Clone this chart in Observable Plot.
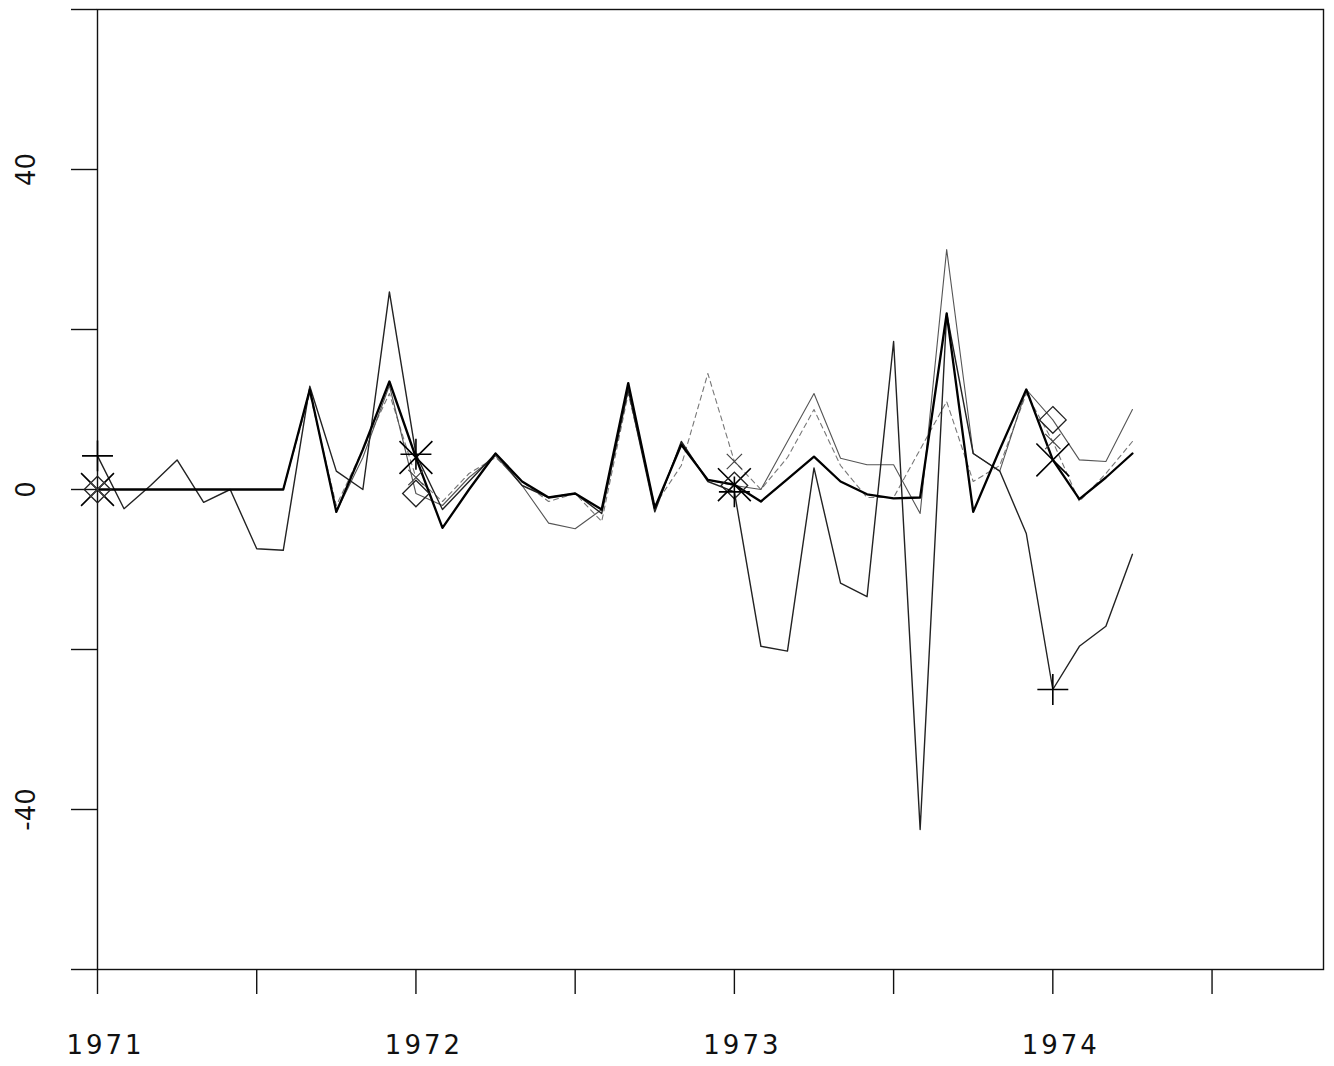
<!DOCTYPE html>
<html>
<head>
<meta charset="utf-8">
<script src="https://cdn.jsdelivr.net/npm/d3@7"></script>
<script src="https://cdn.jsdelivr.net/npm/@observablehq/plot@0.6"></script>
<style>
  html, body { margin: 0; padding: 0; background: #fff; }
  #chart svg { display: block; }
  #chart svg g[aria-label="x-axis tick label"] text { letter-spacing: 3px; }
</style>
</head>
<body>
<div id="chart"></div>
<script>
// Monthly time index, Jan 1971 .. Apr 1974 (decimal years)
const startYear = 1971;
const monthCount = 40;
const months = d3.range(monthCount).map(i => startYear + i / 12);

// Series values
const seriesA = [0,0,0,0,0,0,0,0,12.5,-2.8,5,13.5,4,-4.8,0,4.5,1,-1,-0.5,-2.5,13.3,-2.3,5.6,1.2,0.6,-1.5,1.3,4.1,1,-0.6,-1.1,-1,22,-2.8,5,12.5,3.7,-1.2,1.5,4.5];
const seriesB = [0,0,0,0,0,0,0,0,12.5,-2.8,4,13,-0.5,-2,1.5,4.2,0.5,-4.2,-4.9,-2.5,13,-2.5,5.8,1.2,0.5,0,6,12,3.9,3.1,3.1,-3,30,4.5,2.3,12.5,8.7,3.7,3.5,10];
const seriesC = [0,0,0,0,0,0,0,0,12,-2,5,12,1.5,-1.5,2,4,1,-1.5,-0.5,-4,12,-2,3,14.5,3.5,0,4,10,3,-1,-1,5,11,1,3,12,6,-1.5,2,6];
const seriesD = [4.2,-2.4,0.5,3.7,-1.6,0,-7.4,-7.6,12.9,2.3,0,24.7,4.4,-2.5,1,4.5,0.5,-1,-0.5,-3,12.5,-2.8,6,1,-0.3,-19.6,-20.2,2.7,-11.7,-13.4,18.5,-42.5,22,4.5,2.3,-5.5,-25,-19.6,-17.1,-8.1];

// Axis ticks
const xTicks = [1971, 1971.5, 1972, 1972.5, 1973, 1973.5, 1974, 1974.5];
const xLabels = [1971, 1972, 1973, 1974];
const yTicks = [-60, -40, -20, 0, 20, 40, 60];
const yLabels = [-40, 0, 40];

// Build a long table from the arrays
function toRows(name, values) {
  return values.map((v, i) => ({series: name, t: months[i], m: i, v}));
}
const rowsA = toRows("A", seriesA);
const rowsB = toRows("B", seriesB);
const rowsC = toRows("C", seriesC);
const rowsD = toRows("D", seriesD);
const isYearStart = d => d.m % 12 === 0;

const font = "DejaVu Sans, Liberation Sans, sans-serif";

const chart = Plot.plot({
  width: 1334,
  height: 1066,
  marginLeft: 97,
  marginRight: 11,
  marginTop: 9,
  marginBottom: 97,
  style: {fontFamily: font, background: "#fff"},
  x: {domain: [1971, 1974.85], axis: null},
  y: {domain: [-60, 60], axis: null},
  marks: [
    Plot.frame({stroke: "#111", strokeWidth: 1.4}),
    // x tick marks (half-year)
    Plot.axisX({ticks: xTicks, tickSize: 25, tickFormat: () => "", label: null, stroke: "#111", strokeWidth: 1.4}),
    // x labels (years)
    Plot.axisX({ticks: xLabels, tickSize: 0, tickPadding: 66, tickFormat: d => String(d), label: null, fontSize: 26, fill: "#111", dx: 8}),
    // y tick marks
    Plot.axisY({ticks: yTicks, tickSize: 26, tickFormat: () => "", label: null, stroke: "#111", strokeWidth: 1.4}),
    // y labels, rotated
    Plot.text(yLabels, {y: d => d, text: d => String(d), frameAnchor: "left", dx: -71, rotate: -90, fontSize: 26, fill: "#111", textAnchor: "middle"}),
    // series lines
    Plot.line(rowsC, {x: "t", y: "v", stroke: "#777", strokeWidth: 1.1, strokeDasharray: "5,4"}),
    Plot.line(rowsB, {x: "t", y: "v", stroke: "#555", strokeWidth: 1.1}),
    Plot.line(rowsD, {x: "t", y: "v", stroke: "#222", strokeWidth: 1.4}),
    Plot.line(rowsA, {x: "t", y: "v", stroke: "#000", strokeWidth: 2.3}),
    // yearly markers
    Plot.dot(rowsA.filter(isYearStart), {x: "t", y: "v", symbol: "times", r: 15, stroke: "#000", strokeWidth: 1.6}),
    Plot.dot(rowsB.filter(isYearStart), {x: "t", y: "v", symbol: "diamond2", r: 12, stroke: "#222", strokeWidth: 1.3}),
    Plot.dot(rowsC.filter(isYearStart), {x: "t", y: "v", symbol: "times", r: 7, stroke: "#444", strokeWidth: 1.2}),
    Plot.dot(rowsD.filter(isYearStart), {x: "t", y: "v", symbol: "plus", r: 10, stroke: "#000", strokeWidth: 1.6})
  ]
});
document.getElementById("chart").appendChild(chart);
</script>
</body>
</html>
